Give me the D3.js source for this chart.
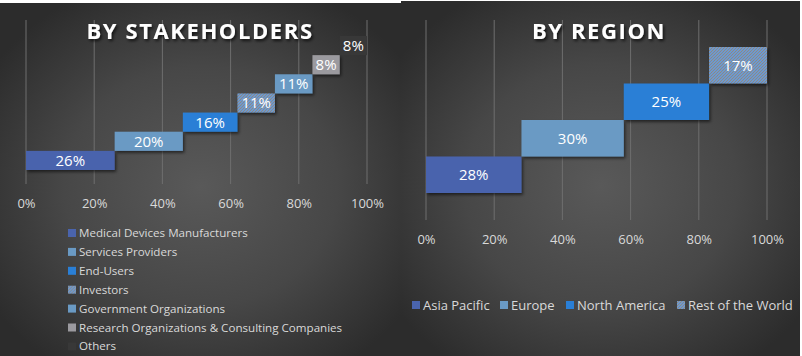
<!DOCTYPE html>
<html><head><meta charset="utf-8">
<script src="https://cdn.jsdelivr.net/npm/d3@7"></script>
<style>
html,body{margin:0;padding:0;background:#fff;}
svg{display:block;}
text{font-family:"Open Sans","DejaVu Sans",sans-serif;}
</style></head>
<body>
<svg id="c" width="802" height="356"></svg>
<script>
// ---------- data ----------
const stakeCategories = ["Medical Devices Manufacturers","Services Providers","End-Users","Investors","Government Organizations","Research Organizations & Consulting Companies","Others"];
const stakeValues = [26, 20, 16, 11, 11, 8, 8];
const regionCategories = ["Asia Pacific","Europe","North America","Rest of the World"];
const regionValues = [28, 30, 25, 17];
const tickValues = [0, 20, 40, 60, 80, 100];
const titles = ["BY STAKEHOLDERS", "BY REGION"];

const stakeColors = ["#4a64ad","#6a9ac4","#2a7fd6","url(#dots)","#6a9ac4","#9b9a9f","#383838"];
const regionColors = ["#4a64ad","#6a9ac4","#2a7fd6","url(#dots)"];

const svg = d3.select("#c");
const defs = svg.append("defs");

function radial(id){
  const g = defs.append("radialGradient").attr("id", id).attr("cx","50%").attr("cy","52%").attr("r","62%");
  g.append("stop").attr("offset","0%").attr("stop-color","#595959");
  g.append("stop").attr("offset","55%").attr("stop-color","#474747");
  g.append("stop").attr("offset","100%").attr("stop-color","#2c2c2c");
}
radial("bg1"); radial("bg2");

const pat = defs.append("pattern").attr("id","dots").attr("width",3).attr("height",3).attr("patternUnits","userSpaceOnUse");
pat.append("rect").attr("width",3).attr("height",3).attr("fill","#6d99cf");
pat.append("rect").attr("x",0).attr("y",0).attr("width",1).attr("height",1).attr("fill","#8f877f");
pat.append("rect").attr("x",2).attr("y",1).attr("width",1).attr("height",1).attr("fill","#7f8a96");
pat.append("rect").attr("x",1).attr("y",2).attr("width",1).attr("height",1).attr("fill","#928a80");

const sh = defs.append("filter").attr("id","shadow").attr("x","-10%").attr("y","-20%").attr("width","130%").attr("height","150%");
sh.append("feDropShadow").attr("dx",1.5).attr("dy",2).attr("stdDeviation",1.5).attr("flood-color","#000").attr("flood-opacity",0.55);
const tsh = defs.append("filter").attr("id","tshadow").attr("x","-10%").attr("y","-30%").attr("width","130%").attr("height","170%");
tsh.append("feDropShadow").attr("dx",1.5).attr("dy",2).attr("stdDeviation",1.5).attr("flood-color","#000").attr("flood-opacity",0.7);

// panels
svg.append("rect").attr("x",0).attr("y",3).attr("width",401).attr("height",353).attr("fill","url(#bg1)");
svg.append("rect").attr("x",401).attr("y",1).attr("width",399).attr("height",355).attr("fill","url(#bg2)");

function panel(opts){
  const g = svg.append("g");
  const x = d3.scaleLinear().domain([0,100]).range([opts.x0, opts.x1]);
  const y = d3.scaleBand().domain(opts.cats).range([opts.yBottom, opts.yTop]).padding(0);
  g.append("g").selectAll("line").data(tickValues).join("line")
    .attr("x1", d=>x(d)).attr("x2", d=>x(d))
    .attr("y1", opts.gTop).attr("y2", opts.gBottom)
    .attr("stroke","#6e6e6e").attr("stroke-width",1);
  const ax = d3.axisBottom(x).tickValues(tickValues).tickFormat(d=>d+"%").tickSize(0).tickPadding(0);
  const axg = g.append("g").attr("transform",`translate(0,${opts.tickY})`).call(ax);
  axg.select(".domain").remove();
  axg.selectAll("text").attr("fill","#d9d9d9").attr("font-size",13).attr("dy","0.35em").attr("y",0);
  const starts = opts.vals.map((v,i)=>d3.sum(opts.vals.slice(0,i)));
  const bars = g.append("g").selectAll("g").data(opts.cats).join("g");
  bars.append("rect")
    .attr("x",(d,i)=>x(starts[i]))
    .attr("y",d=>y(d))
    .attr("width",(d,i)=>x(starts[i]+opts.vals[i]) - x(starts[i]))
    .attr("height",y.bandwidth())
    .attr("fill",(d,i)=>opts.colors[i])
    .attr("filter",(d,i)=> i===opts.cats.length-1 && opts.noShadowLast ? null : "url(#shadow)");
  bars.append("text")
    .attr("x",(d,i)=>x(starts[i]+opts.vals[i]/2))
    .attr("y",d=>y(d)+y.bandwidth()/2)
    .attr("dy","0.36em").attr("text-anchor","middle")
    .attr("fill","#fff").attr("font-size",15)
    .text((d,i)=>opts.vals[i]+"%");
  g.append("text").attr("x",opts.titleX).attr("y",39).attr("text-anchor","middle")
    .attr("fill","#fff").attr("font-size",22).attr("font-weight","bold").attr("letter-spacing",1.6)
    .attr("filter","url(#tshadow)").text(opts.title);
  return {x,y,g};
}

panel({x0:26,x1:367,yBottom:170,yTop:36,gTop:20,gBottom:184,tickY:203,cats:stakeCategories,vals:stakeValues,colors:stakeColors,title:titles[0],titleX:200,noShadowLast:true});
panel({x0:426,x1:767,yBottom:193,yTop:47,gTop:20,gBottom:220,tickY:239,cats:regionCategories,vals:regionValues,colors:regionColors,title:titles[1],titleX:599});

const leg1 = svg.append("g").selectAll("g").data(stakeCategories).join("g")
  .attr("transform",(d,i)=>`translate(68,${233 + i*18.9})`);
leg1.append("rect").attr("x",0).attr("y",-4).attr("width",8).attr("height",8).attr("fill",(d,i)=>stakeColors[i]);
leg1.append("text").attr("x",11).attr("dy","0.35em").attr("fill","#d9d9d9").attr("font-size",11.6).text(d=>d);

const legX = [412, 500, 566, 677];
const leg2 = svg.append("g").selectAll("g").data(regionCategories).join("g")
  .attr("transform",(d,i)=>`translate(${legX[i]},305)`);
leg2.append("rect").attr("x",0).attr("y",-4).attr("width",8).attr("height",8).attr("fill",(d,i)=>regionColors[i]);
leg2.append("text").attr("x",11).attr("dy","0.35em").attr("fill","#d9d9d9").attr("font-size",13).text(d=>d);
</script>
</body></html>
